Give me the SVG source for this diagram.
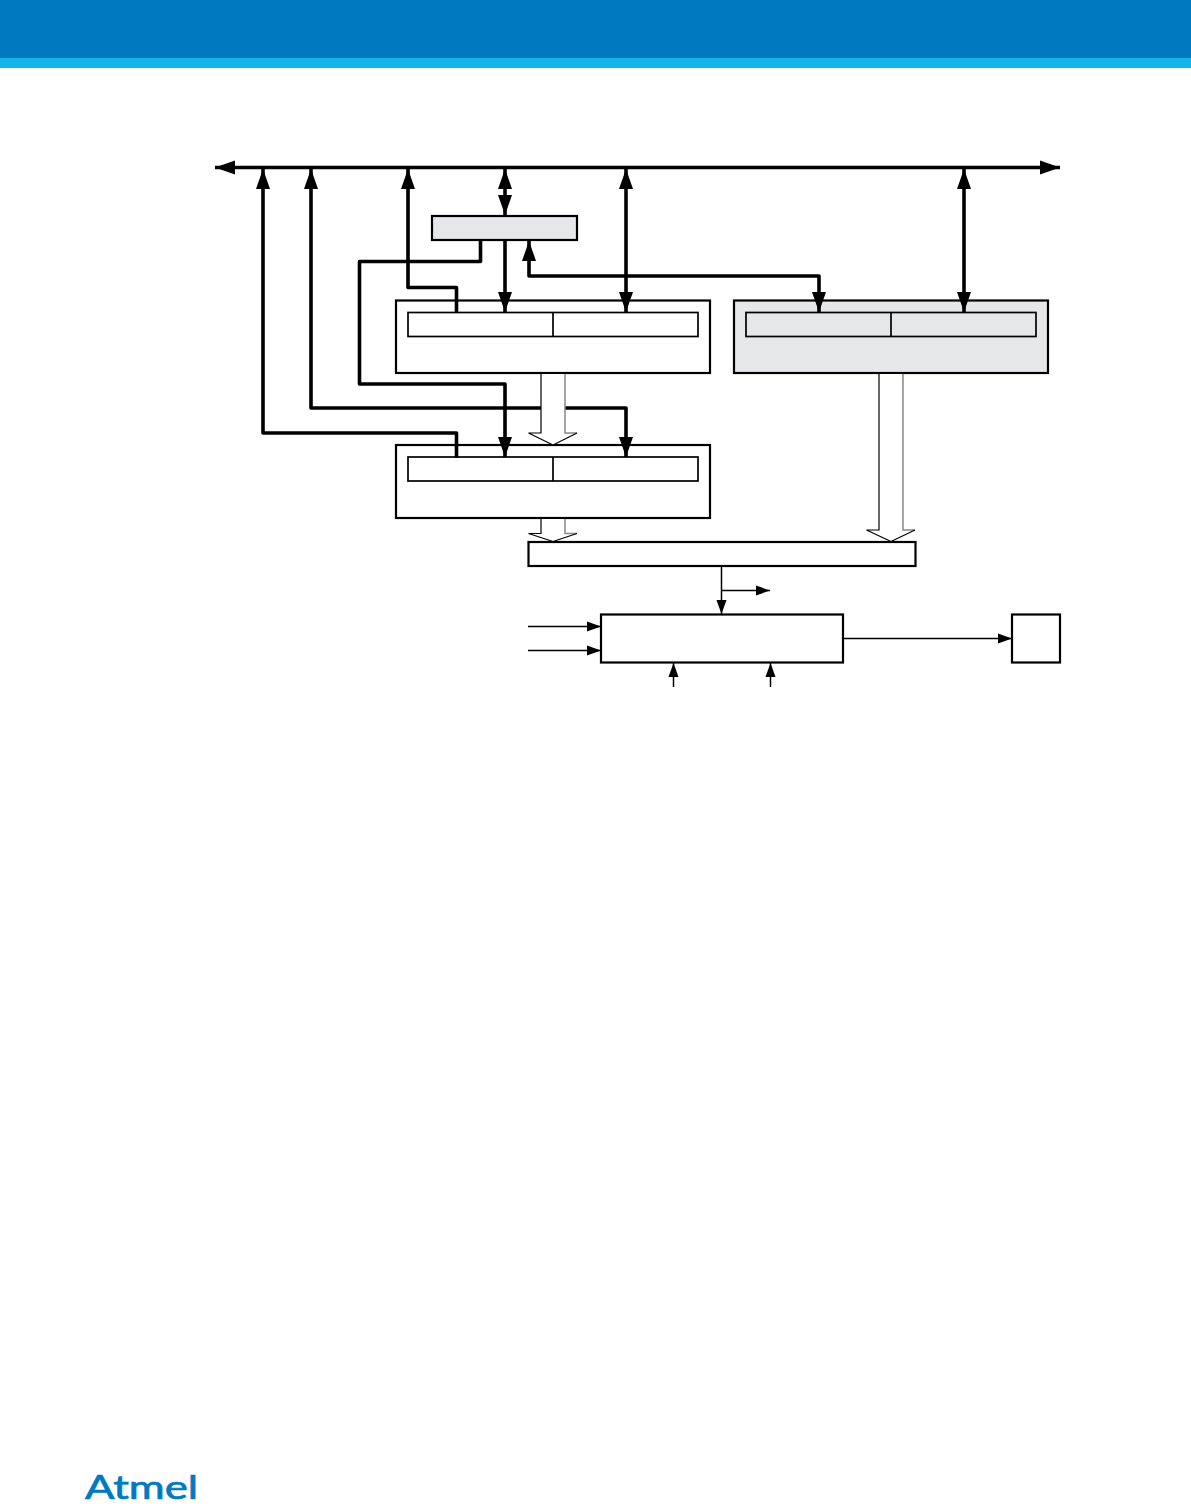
<svg xmlns="http://www.w3.org/2000/svg" width="1191" height="1506" viewBox="0 0 1191 1506">
<style>
.box{fill:#fff;stroke:#000;stroke-width:2.2}
.gray{fill:#e6e7e8}
.inner{fill:none;stroke:#000;stroke-width:1.7}
.bus{fill:none;stroke:#000;stroke-width:3.6;stroke-linejoin:round}
.thin{fill:none;stroke:#000;stroke-width:1.5}
.hollow{fill:#fff;stroke:none}
.hl{fill:none;stroke:#000;stroke-width:1.2}
.hr{fill:none;stroke:#888;stroke-width:1.5}
.logo{font-family:"Lato","Liberation Sans",sans-serif;font-size:33px;font-weight:400;fill:#0079c1;stroke:#0079c1;stroke-width:.7}
</style>
<defs>
<marker id="big" markerUnits="userSpaceOnUse" markerWidth="20" markerHeight="15" refX="20" refY="7.500" orient="auto-start-reverse"><path d="M0 .5L20 7.500L0 14.500Z" fill="#000"/></marker>
<marker id="small" markerUnits="userSpaceOnUse" markerWidth="14" markerHeight="12" refX="14" refY="6" orient="auto-start-reverse"><path d="M0 1L14 6L0 11Z" fill="#000"/></marker>
</defs>
<g id="header"><rect width="1191" height="58" fill="#0079c1"/><rect y="58" width="1191" height="10" fill="#14b5ea"/></g>
<g id="node-top"><rect class="box gray" x="432" y="216" width="145" height="24"/></g>
<g id="node-a"><rect class="box" x="396" y="300.5" width="314" height="72.5"/><rect class="inner" x="408" y="312.5" width="290" height="24"/><path class="inner" d="M553 312.5V336.5"/></g>
<g id="node-gray"><rect class="box gray" x="734" y="300.5" width="314" height="72.5"/><rect class="inner" x="746" y="312.5" width="290" height="24"/><path class="inner" d="M891 312.5V336.5"/></g>
<g id="node-b"><rect class="box" x="396" y="445" width="314" height="73"/><rect class="inner" x="408" y="457" width="290" height="24"/><path class="inner" d="M553 457V481"/></g>
<g id="node-bar"><rect class="box" x="528.5" y="542" width="387" height="24"/></g>
<g id="node-c"><rect class="box" x="601" y="614.5" width="242" height="48"/></g>
<g id="node-pin"><rect class="box" x="1012" y="614.5" width="48" height="48"/></g>
<g id="connectors">
<path class="bus" d="M215 167.500H1060" marker-start="url(#big)" marker-end="url(#big)"/>
<path class="bus" d="M456.500 458V433H263V169" marker-end="url(#big)"/>
<path class="bus" d="M311 169V408H626V457" marker-start="url(#big)" marker-end="url(#big)"/>
<path class="bus" d="M480.500 240V261.500H359.500V384H505V457" marker-end="url(#big)"/>
<path class="bus" d="M456.500 313V287.500H408V169" marker-end="url(#big)"/>
<path class="bus" d="M505 169V215" marker-start="url(#big)" marker-end="url(#big)"/>
<path class="bus" d="M505 240V312" marker-end="url(#big)"/>
<path class="bus" d="M529 241V276H819V312" marker-start="url(#big)" marker-end="url(#big)"/>
<path class="bus" d="M626 169V312" marker-start="url(#big)" marker-end="url(#big)"/>
<path class="bus" d="M964 169V312" marker-start="url(#big)" marker-end="url(#big)"/>
<path class="hollow" d="M541 374H565V433H577L553 445L528.500 433H541Z"/>
<path class="hl" d="M541 374V433H528.500L553 445"/><path class="hr" d="M565 374V433H577"/><path class="hl" d="M577 433L553 445"/>
<path class="hollow" d="M541 519H565V533.500H577L553 541.500L528.500 533.500H541Z"/>
<path class="hl" d="M541 519V533.500H528.500L553 541.500"/><path class="hr" d="M565 519V533.500H577"/><path class="hl" d="M577 533.500L553 541.500"/>
<path class="hollow" d="M879 374H903V530H915L891 541.500L866.500 530H879Z"/>
<path class="hl" d="M879 374V530H866.500L891 541.500"/><path class="hr" d="M903 374V530H915"/><path class="hl" d="M915 530L891 541.500"/>
<path class="thin" d="M721.500 567V614" marker-end="url(#small)"/>
<path class="thin" d="M721.500 590.500H770" marker-end="url(#small)"/>
<path class="thin" d="M528 626.500H601" marker-end="url(#small)"/>
<path class="thin" d="M528 650.500H601" marker-end="url(#small)"/>
<path class="thin" d="M673.500 687V663" marker-end="url(#small)"/>
<path class="thin" d="M770.500 687V663" marker-end="url(#small)"/>
<path class="thin" d="M844 638.500H1012" marker-end="url(#small)"/>
</g>
<g id="logo"><text class="logo" x="85" y="1499" textLength="113" lengthAdjust="spacingAndGlyphs">Atmel</text></g>
</svg>
